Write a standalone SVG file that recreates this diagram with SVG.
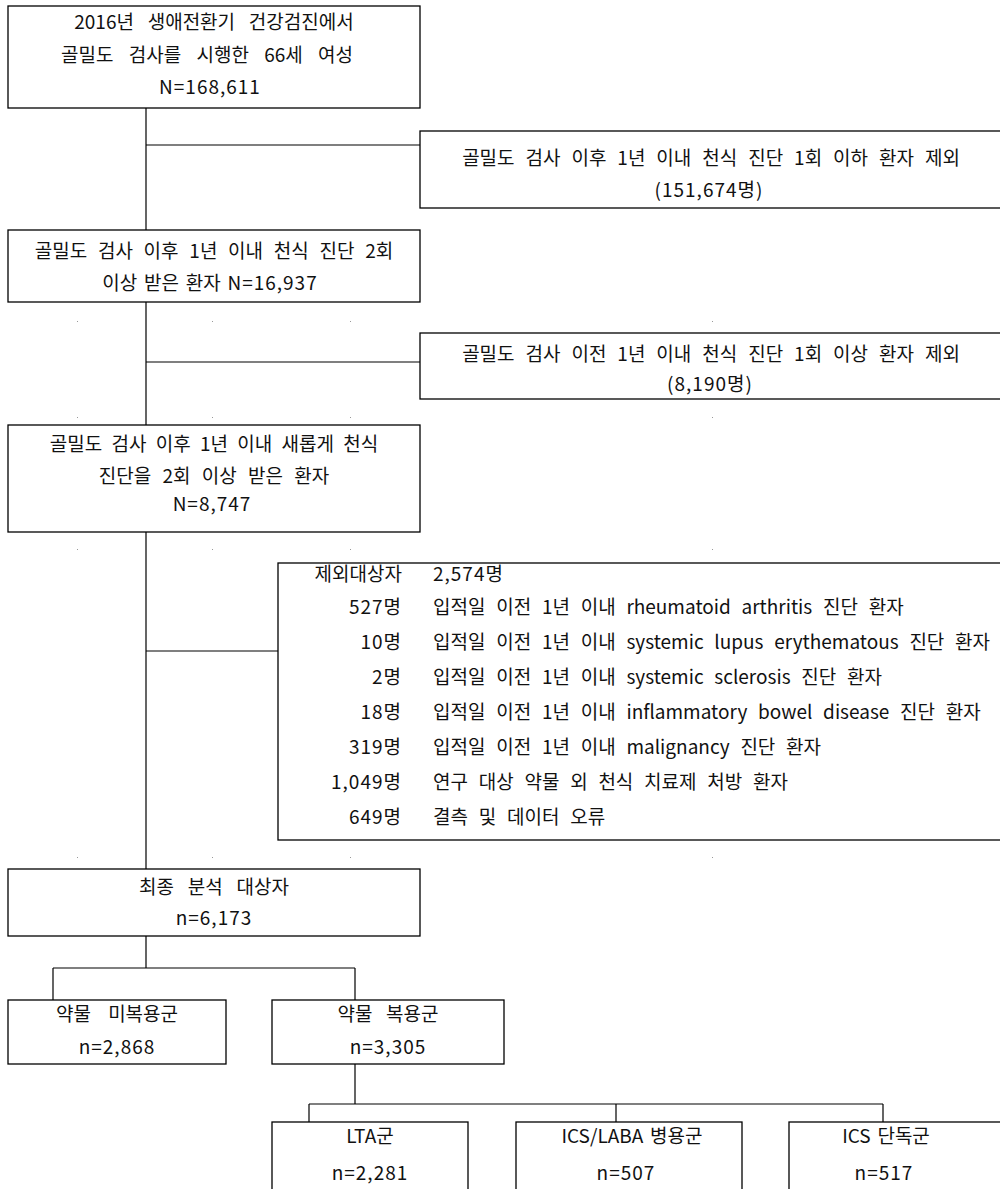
<svg xmlns="http://www.w3.org/2000/svg" width="1000" height="1189" viewBox="0 0 1000 1189">
<style>
.box{fill:#fff;stroke:#000;stroke-width:1.3}
.ln{stroke:#000;stroke-width:1.2;fill:none}
text{font-family:"Noto Sans CJK KR","Noto Sans",sans-serif;font-size:19px;fill:#111;word-spacing:6.5px}
.m{text-anchor:middle}
.r{text-anchor:end}
.num{letter-spacing:1px}
.d{word-spacing:6.5px}
.dot{fill:#999}
</style>
<rect width="1000" height="1189" fill="#fff"/>
<g id="dots">
<rect class="dot" x="77" y="321" width="1" height="1"/><rect class="dot" x="212" y="321" width="1" height="1"/><rect class="dot" x="350" y="321" width="1" height="1"/><rect class="dot" x="712" y="321" width="1" height="1"/>
<rect class="dot" x="77" y="417" width="1" height="1"/><rect class="dot" x="212" y="417" width="1" height="1"/><rect class="dot" x="350" y="417" width="1" height="1"/><rect class="dot" x="712" y="417" width="1" height="1"/>
<rect class="dot" x="77" y="549" width="1" height="1"/><rect class="dot" x="212" y="549" width="1" height="1"/><rect class="dot" x="350" y="549" width="1" height="1"/><rect class="dot" x="712" y="549" width="1" height="1"/>
<rect class="dot" x="77" y="857" width="1" height="1"/><rect class="dot" x="212" y="857" width="1" height="1"/><rect class="dot" x="350" y="857" width="1" height="1"/><rect class="dot" x="712" y="857" width="1" height="1"/>
</g>
<g id="connectors">
<path class="ln" d="M146 108V230M146 145H420"/>
<path class="ln" d="M146 302V425M146 362H420"/>
<path class="ln" d="M146 532V869M146 651H278"/>
<path class="ln" d="M146 936V968M53 968H355M53 968V1000M355 968V1000"/>
<path class="ln" d="M355 1064V1104M309 1104H883M309 1104V1122M616 1104V1122M883 1104V1122"/>
</g>
<g id="n1"><rect class="box" x="8" y="6" width="412" height="102"/>
<text class="m" x="214" y="29" style="word-spacing:9.5px">2016년 생애전환기 건강검진에서</text>
<text class="m" x="207" y="62" style="word-spacing:11px">골밀도 검사를 시행한 66세 여성</text>
<text class="m num" x="210" y="94">N=168,611</text></g>
<g id="x1"><rect class="box" x="420" y="131" width="590" height="77"/>
<text class="m" x="711" y="165" style="word-spacing:6.7px">골밀도 검사 이후 1년 이내 천식 진단 1회 이하 환자 제외</text>
<text class="m num" x="709" y="197">(151,674명)</text></g>
<g id="n2"><rect class="box" x="8" y="230" width="412" height="72"/>
<text class="m" x="214" y="258">골밀도 검사 이후 1년 이내 천식 진단 2회</text>
<text class="m" x="210" y="290" style="word-spacing:2.5px">이상 받은 환자 <tspan class="num">N=16,937</tspan></text></g>
<g id="x2"><rect class="box" x="420" y="333" width="590" height="66"/>
<text class="m" x="711" y="361" style="word-spacing:6.7px">골밀도 검사 이전 1년 이내 천식 진단 1회 이상 환자 제외</text>
<text class="m num" x="710" y="391">(8,190명)</text></g>
<g id="n3"><rect class="box" x="8" y="425" width="412" height="107"/>
<text class="m" x="214" y="451" style="word-spacing:5px">골밀도 검사 이후 1년 이내 새롭게 천식</text>
<text class="m" x="214" y="483" style="word-spacing:7px">진단을 2회 이상 받은 환자</text>
<text class="m num" x="212" y="511">N=8,747</text></g>
<g id="x3"><rect class="box" x="278" y="563" width="732" height="277"/>
<text class="r" x="402" y="581">제외대상자</text><text class="num" x="433" y="581">2,574명</text>
<text class="r num" x="402" y="614">527명</text><text class="d" x="433" y="614">입적일 이전 1년 이내 rheumatoid arthritis 진단 환자</text>
<text class="r num" x="402" y="649">10명</text><text class="d" x="433" y="649">입적일 이전 1년 이내 systemic lupus erythematous 진단 환자</text>
<text class="r num" x="402" y="684">2명</text><text class="d" x="433" y="684">입적일 이전 1년 이내 systemic sclerosis 진단 환자</text>
<text class="r num" x="402" y="719">18명</text><text class="d" x="433" y="719">입적일 이전 1년 이내 inflammatory bowel disease 진단 환자</text>
<text class="r num" x="402" y="754">319명</text><text class="d" x="433" y="754">입적일 이전 1년 이내 malignancy 진단 환자</text>
<text class="r num" x="402" y="789">1,049명</text><text class="d" x="433" y="789">연구 대상 약물 외 천식 치료제 처방 환자</text>
<text class="r num" x="402" y="824">649명</text><text class="d" x="433" y="824">결측 및 데이터 오류</text></g>
<g id="n4"><rect class="box" x="8" y="869" width="412" height="67"/>
<text class="m" x="214" y="894" style="word-spacing:9.5px">최종 분석 대상자</text>
<text class="m num" x="214" y="925">n=6,173</text></g>
<g id="n5"><rect class="box" x="8" y="1000" width="218" height="64"/>
<text class="m" x="117" y="1021" style="word-spacing:13px">약물 미복용군</text>
<text class="m num" x="117" y="1054">n=2,868</text></g>
<g id="n6"><rect class="box" x="272" y="1000" width="232" height="64"/>
<text class="m" x="388" y="1021" style="word-spacing:9.5px">약물 복용군</text>
<text class="m num" x="388" y="1054">n=3,305</text></g>
<g id="n7"><rect class="box" x="272" y="1122" width="196" height="80"/>
<text class="m" x="370" y="1143">LTA군</text>
<text class="m num" x="370" y="1180">n=2,281</text></g>
<g id="n8"><rect class="box" x="516" y="1122" width="226" height="80"/>
<text class="m" x="632" y="1143" style="word-spacing:2.5px">ICS/LABA 병용군</text>
<text class="m num" x="626" y="1180">n=507</text></g>
<g id="n9"><rect class="box" x="789" y="1122" width="222" height="80"/>
<text class="m" x="886" y="1143" style="word-spacing:2.5px">ICS 단독군</text>
<text class="m num" x="884" y="1180">n=517</text></g>
</svg>
